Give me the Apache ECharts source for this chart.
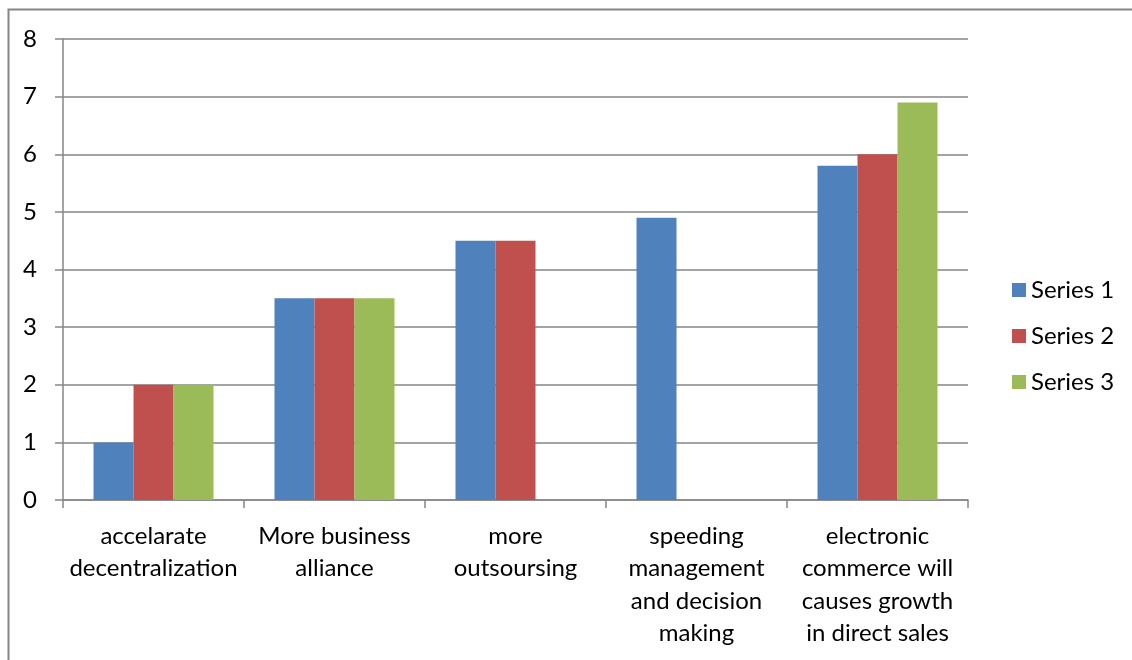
<!DOCTYPE html>
<html>
<head>
<meta charset="utf-8">
<script src="https://cdn.jsdelivr.net/npm/echarts@6/dist/echarts.min.js"></script>
<style>html,body{margin:0;padding:0;background:#fff;}#c{width:1132px;height:660px;}</style>
</head>
<body>
<div id="c"></div>
<script>
const categories = [
  "accelarate\ndecentralization",
  "More business\nalliance",
  "more\noutsoursing",
  "speeding\nmanagement\nand decision\nmaking",
  "electronic\ncommerce will\ncauses growth\nin direct sales"
];
const seriesNames = ["Series 1", "Series 2", "Series 3"];
const series1 = [1, 3.5, 4.5, 4.9, 5.8];
const series2 = [2, 3.5, 4.5, null, 6];
const series3 = [2, 3.5, null, null, 6.9];
const colors = ["#4F81BD", "#C0504D", "#9BBB59"];

const FONT = "Lato";
const chart = echarts.init(document.getElementById('c'));
const mk = (name, data, color) => ({
  name, type: 'bar', data, barWidth: 40, barGap: '0%',
  itemStyle: { color }, animation: false
});
chart.setOption({
  animation: false,
  textStyle: { fontFamily: FONT },
  graphic: [{
    type: 'rect', shape: { x: 8.5, y: 9.5, width: 1200, height: 700 },
    style: { fill: 'none', stroke: '#868686', lineWidth: 2 }, silent: true
  }],
  grid: { left: 63, right: 164, top: 39, bottom: 160, containLabel: false },
  legend: {
    orient: 'vertical', left: 1007, top: 273,
    itemWidth: 14, itemHeight: 14, itemGap: 22,
    icon: 'rect',
    textStyle: { fontSize: 24, color: '#000', fontFamily: FONT },
    data: seriesNames
  },
  xAxis: {
    type: 'category', data: categories,
    axisLine: { lineStyle: { color: '#868686', width: 1.5 } },
    axisTick: { show: true, length: 8, alignWithLabel: false, lineStyle: { color: '#868686', width: 1.5 } },
    axisLabel: { interval: 0, color: '#000', fontSize: 24, lineHeight: 32.5, margin: 20, fontFamily: FONT }
  },
  yAxis: {
    type: 'value', min: 0, max: 8, interval: 1,
    axisLine: { show: true, lineStyle: { color: '#868686', width: 1.5 } },
    axisTick: { show: true, length: 8, lineStyle: { color: '#868686', width: 1.5 } },
    splitLine: { lineStyle: { color: '#868686', width: 1.5 } },
    axisLabel: { color: '#000', fontSize: 24, margin: 26, fontFamily: FONT }
  },
  series: [
    mk(seriesNames[0], series1, colors[0]),
    mk(seriesNames[1], series2, colors[1]),
    mk(seriesNames[2], series3, colors[2])
  ]
});
</script>
</body>
</html>
